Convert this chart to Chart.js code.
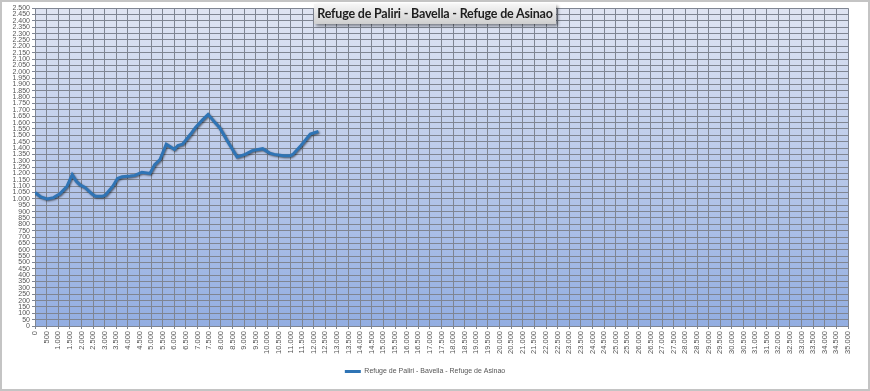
<!DOCTYPE html>
<html>
<head>
<meta charset="utf-8">
<script src="https://cdn.jsdelivr.net/npm/chart.js@4"></script>
<style>
    body { margin: 0; background: #fff; }
    #wrap { position: relative; width: 870px; height: 391px; box-sizing: border-box; border: 2px solid #c4c4c4; }
    #title {
        position: absolute; left: 312px; top: 2px; width: 242px; height: 20px;
        background: linear-gradient(#f6f6f6, #cfcfcf);
        box-shadow: 2px 2px 3px rgba(0, 0, 0, 0.45);
        font: bold 12.5px Lato, sans-serif; color: #1e1e1e; letter-spacing: -0.2px;
        text-align: center; line-height: 20px; white-space: nowrap;
    }
</style>
</head>
<body>
<div id="wrap">
    <canvas id="profile" width="866" height="387"></canvas>
    <div id="title">Refuge de Paliri - Bavella - Refuge de Asinao</div>
</div>
<script>
const seriesName = 'Refuge de Paliri - Bavella - Refuge de Asinao';

// distance en m
const distances = [0, 250, 520, 800, 1070, 1380, 1600, 1770, 1940, 2150, 2450, 2600, 2900, 3030,
    3350, 3550, 3750, 4100, 4300, 4600, 4950, 5150, 5380, 5650, 6000, 6150, 6350, 6700, 6900,
    7200, 7450, 7750, 7950, 8300, 8700, 9050, 9350, 9800, 10100, 10300, 10700, 11000, 11100,
    11450, 11850, 12200];
// altitude en m
const altitudes = [1050, 1015, 1000, 1010, 1040, 1100, 1190, 1140, 1110, 1090, 1040, 1020, 1020, 1030,
    1100, 1160, 1175, 1180, 1185, 1210, 1200, 1270, 1310, 1430, 1390, 1420, 1430, 1510, 1560,
    1620, 1665, 1600, 1560, 1450, 1330, 1350, 1380, 1395, 1360, 1350, 1340, 1340, 1350,
    1420, 1510, 1530];

const xMax = 35000, xStep = 500;
const yMax = 2500, yStep = 50;

function fmt(v) {
    return String(v).replace(/\B(?=(\d{3})+(?!\d))/g, '.');
}

const plotBackground = {
    id: 'plotBackground',
    beforeDraw(chart) {
        const { ctx, chartArea: a } = chart;
        const g = ctx.createLinearGradient(0, a.top, 0, a.bottom);
        g.addColorStop(0, '#dfe4f2');
        g.addColorStop(1, '#93aee2');
        ctx.save();
        ctx.fillStyle = g;
        ctx.fillRect(a.left, a.top, a.right - a.left, a.bottom - a.top);
        ctx.restore();
    }
};

const lineShadow = {
    id: 'lineShadow',
    beforeDatasetsDraw(chart) {
        const ctx = chart.ctx;
        ctx.save();
        ctx.shadowColor = 'rgba(0, 0, 0, 0.55)';
        ctx.shadowBlur = 2;
        ctx.shadowOffsetX = 1;
        ctx.shadowOffsetY = 1;
    },
    afterDatasetsDraw(chart) {
        chart.ctx.restore();
    }
};

const ctx = document.getElementById('profile').getContext('2d');
new Chart(ctx, {
    type: 'line',
    data: {
        datasets: [{
            label: seriesName,
            data: distances.map((d, i) => ({ x: d, y: altitudes[i] })),
            borderColor: '#2f74b5',
            backgroundColor: '#2f74b5',
            borderWidth: 3,
            pointRadius: 0,
            tension: 0
        }]
    },
    options: {
        responsive: false,
        animation: false,
        layout: { padding: { top: 4, right: 20, bottom: 4, left: 0 } },
        scales: {
            x: {
                type: 'linear',
                min: 0,
                max: xMax,
                afterBuildTicks(scale) {
                    const t = [];
                    for (let v = 0; v <= xMax; v += xStep) t.push({ value: v });
                    scale.ticks = t;
                },
                afterFit(scale) { scale.height = 28; },
                grid: { color: '#7f8592', drawTicks: true, tickLength: 3 },
                border: { color: '#7f8592' },
                ticks: {
                    autoSkip: false,
                    minRotation: 90,
                    maxRotation: 90,
                    padding: 2,
                    color: '#555',
                    font: { size: 7.5, family: 'Liberation Sans' },
                    callback: v => fmt(v)
                }
            },
            y: {
                min: 0,
                max: yMax,
                afterBuildTicks(scale) {
                    const t = [];
                    for (let v = 0; v <= yMax; v += yStep) t.push({ value: v });
                    scale.ticks = t;
                },
                afterFit(scale) { scale.width = 33; },
                grid: { color: '#7f8592', tickLength: 3 },
                border: { color: '#7f8592' },
                ticks: {
                    autoSkip: false,
                    padding: 2,
                    color: '#555',
                    font: { size: 7, family: 'Liberation Sans' },
                    callback: v => fmt(v)
                }
            }
        },
        plugins: {
            legend: {
                position: 'bottom',
                labels: {
                    usePointStyle: true,
                    pointStyle: 'line',
                    pointStyleWidth: 16,
                    padding: 14,
                    color: '#555',
                    font: { size: 7, family: 'Liberation Sans' }
                }
            },
            title: { display: false },
            tooltip: { enabled: false }
        }
    },
    plugins: [plotBackground, lineShadow]
});
</script>
</body>
</html>
